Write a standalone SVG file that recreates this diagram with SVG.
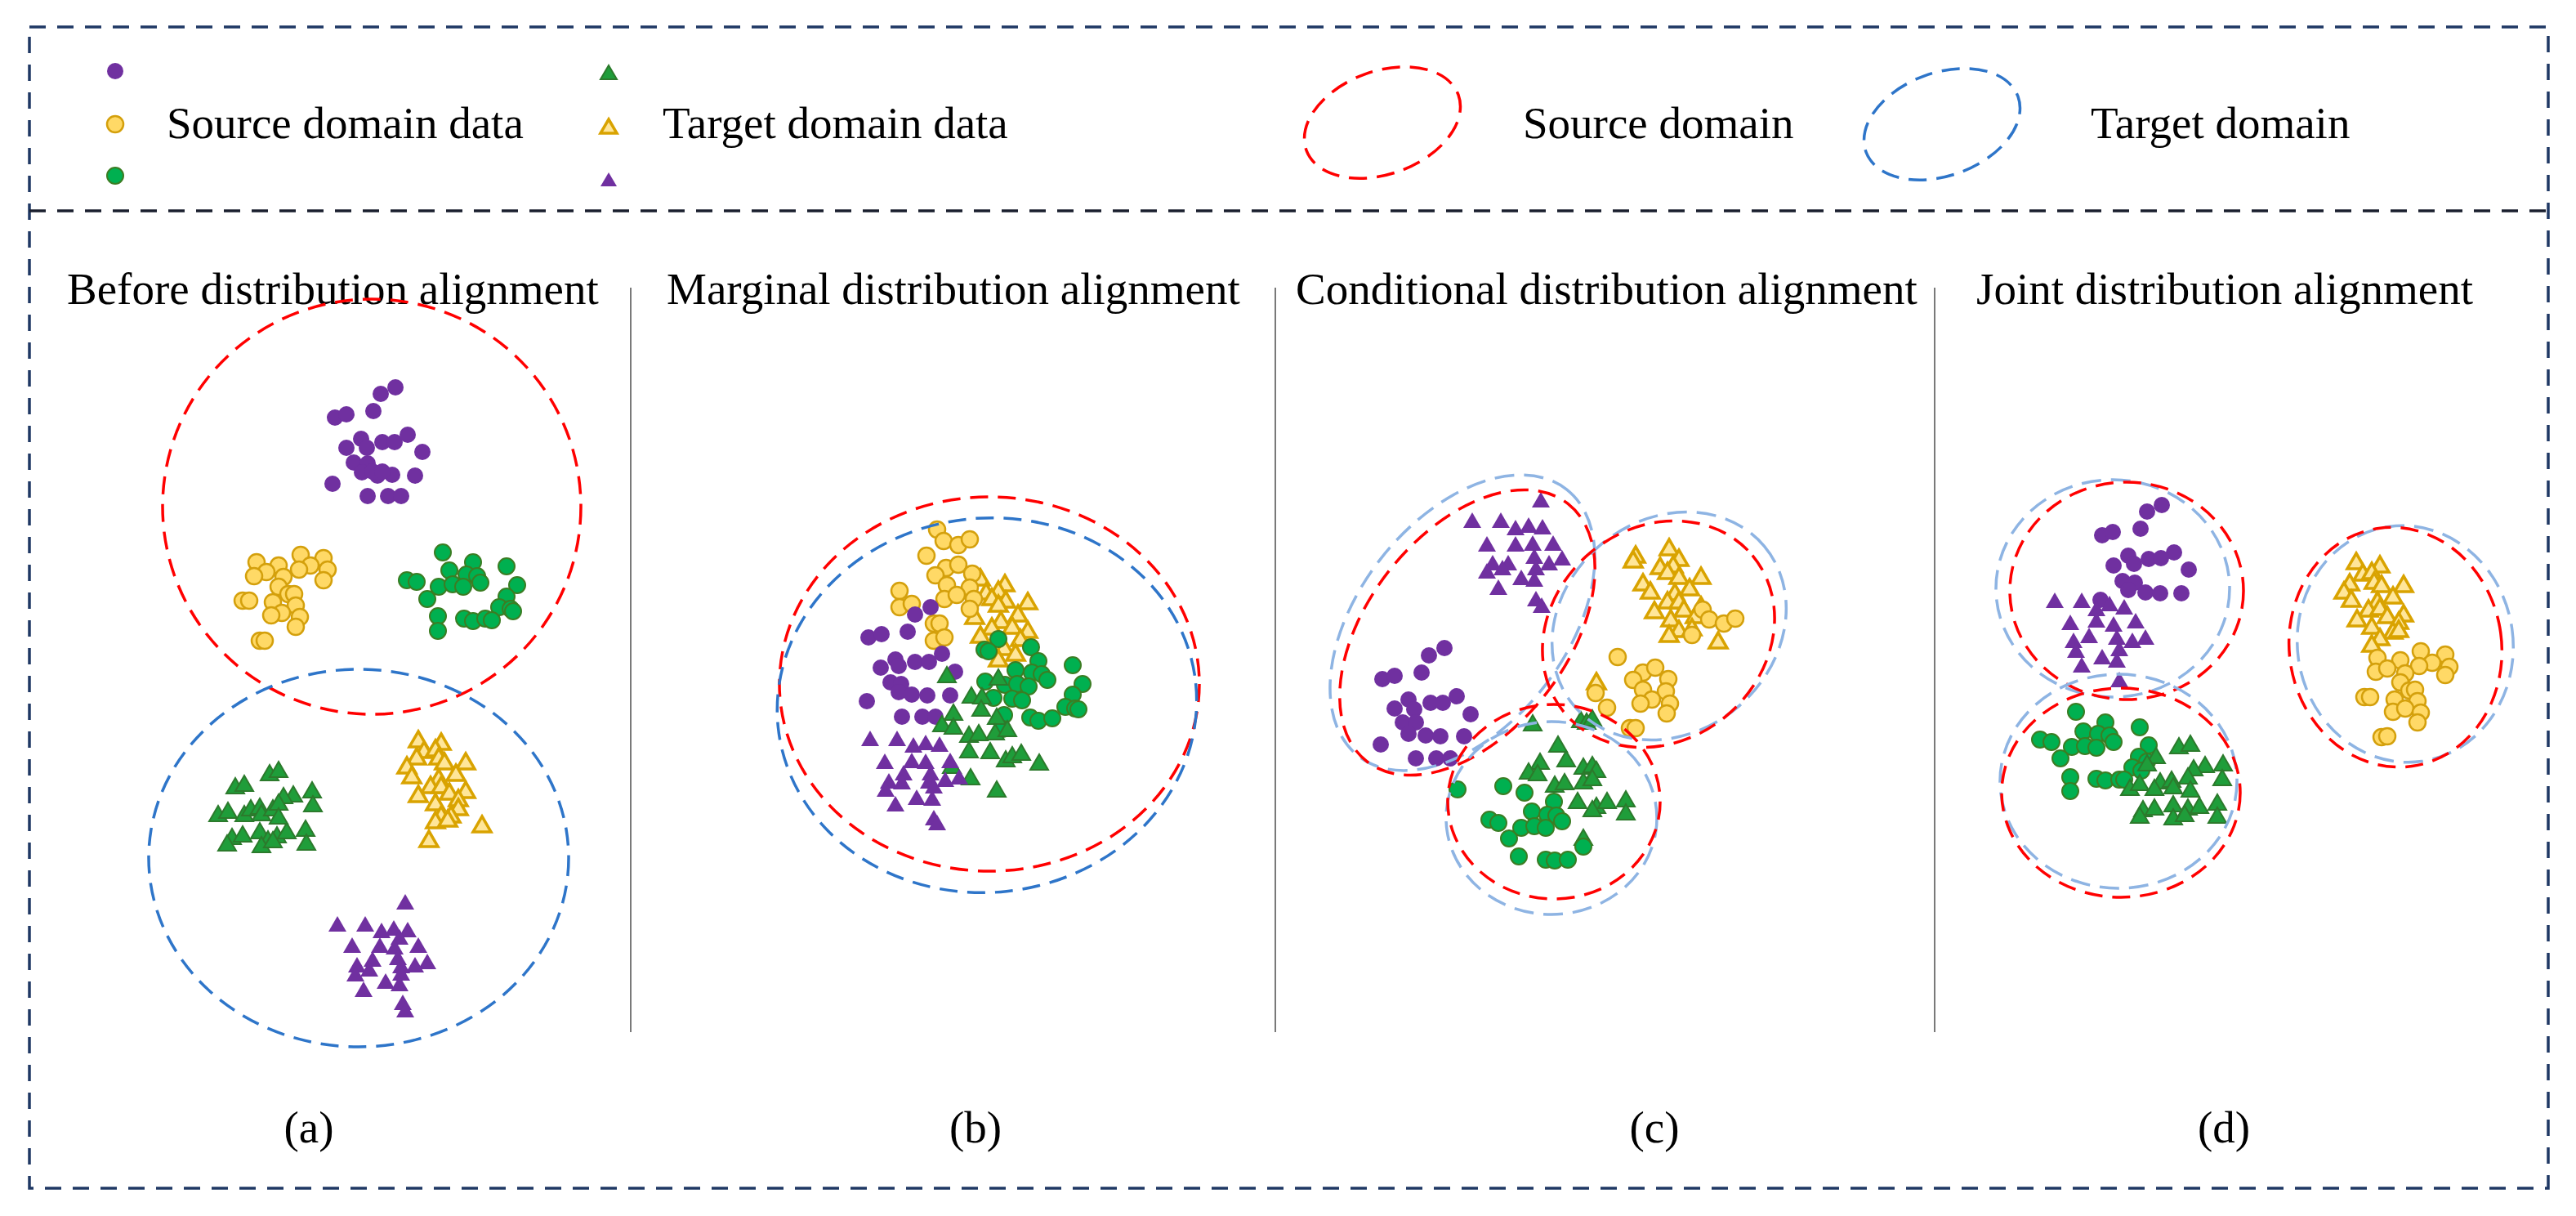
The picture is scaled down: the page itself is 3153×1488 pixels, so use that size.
<svg xmlns="http://www.w3.org/2000/svg" width="3153" height="1488" viewBox="0 0 3153 1488">
<style>
text{font-family:"Liberation Serif","Times New Roman",serif;font-size:55px;fill:#000}
.pc{fill:#7030a0}
.yc{fill:#ffd966;stroke:#d4a00c;stroke-width:2.5}
.gc{fill:#00b050;stroke:#3b7d23;stroke-width:2}
.pt{fill:#7030a0}
.yt{fill:#ffe699;stroke:#d9a300;stroke-width:3.5}
.gt{fill:#1f9d3a;stroke:#2c7a2c;stroke-width:2}
.er{fill:none;stroke:#ff0000;stroke-width:3.5;stroke-dasharray:22 12}
.eb{fill:none;stroke:#2e75c9;stroke-width:3.5;stroke-dasharray:22 12}
.el{fill:none;stroke:#8eb4e3;stroke-width:3.5;stroke-dasharray:24 12}
.frame{fill:none;stroke:#1f3864;stroke-width:3.5;stroke-dasharray:20 14}
.sep{stroke:#4d4d4d;stroke-width:1.5}
</style>
<defs>
<circle id="c" r="10"/>
<polygon id="t" points="0,-11 11,8 -11,8"/>
<circle id="lc" r="10"/>
<polygon id="lt" points="0,-9 10,8 -10,8"/>
</defs>
<rect width="3153" height="1488" fill="#fff"/>

<g id="frame">
<rect class="frame" x="36" y="33" width="3083" height="1421"/>
<line x1="36" y1="258" x2="3119" y2="258" stroke="#1a1f2e" stroke-width="3.5" stroke-dasharray="20 14"/>
</g>

<g id="legend">
<use href="#lc" class="pc" x="141" y="87"/>
<use href="#lc" class="yc" x="141" y="152"/>
<use href="#lc" class="gc" x="141" y="215"/>
<text x="204" y="169">Source domain data</text>
<use href="#lt" class="gt" x="745" y="89"/>
<use href="#lt" class="yt" x="745" y="155"/>
<use href="#lt" class="pt" x="745" y="220"/>
<text x="811" y="169">Target domain data</text>
<ellipse class="er" cx="1692" cy="150" rx="99" ry="63" transform="rotate(-20 1692 150)"/>
<text x="1864" y="169">Source domain</text>
<ellipse class="eb" cx="2377" cy="152" rx="99" ry="63" transform="rotate(-20 2377 152)"/>
<text x="2559" y="169">Target domain</text>
</g>

<g id="separators">
<line class="sep" x1="772" y1="352" x2="772" y2="1263"/>
<line class="sep" x1="1561" y1="352" x2="1561" y2="1263"/>
<line class="sep" x1="2368" y1="352" x2="2368" y2="1263"/>
</g>

<g id="titles">
<text x="82" y="372">Before distribution alignment</text>
<text x="816" y="372">Marginal distribution alignment</text>
<text x="1586" y="372">Conditional distribution alignment</text>
<text x="2419" y="372">Joint distribution alignment</text>
</g>

<g id="labels" text-anchor="middle">
<text x="378" y="1398">(a)</text>
<text x="1194" y="1398">(b)</text>
<text x="2025" y="1398">(c)</text>
<text x="2722" y="1398">(d)</text>
</g>

<g id="panel-a">
<g class="pc">
<use href="#c" x="484" y="474"/><use href="#c" x="466" y="482"/><use href="#c" x="457" y="503"/><use href="#c" x="410" y="511"/><use href="#c" x="424" y="507"/><use href="#c" x="442" y="537"/><use href="#c" x="468" y="541"/><use href="#c" x="483" y="541"/><use href="#c" x="499" y="532"/><use href="#c" x="424" y="548"/><use href="#c" x="449" y="548"/><use href="#c" x="517" y="553"/><use href="#c" x="433" y="566"/><use href="#c" x="450" y="567"/><use href="#c" x="443" y="578"/><use href="#c" x="462" y="582"/><use href="#c" x="480" y="581"/><use href="#c" x="508" y="582"/><use href="#c" x="407" y="592"/><use href="#c" x="450" y="607"/><use href="#c" x="475" y="607"/><use href="#c" x="491" y="607"/><use href="#c" x="456" y="577"/><use href="#c" x="468" y="577"/>
</g>
<g class="yc">
<use href="#c" x="314" y="688"/><use href="#c" x="341" y="692"/><use href="#c" x="326" y="700"/><use href="#c" x="311" y="705"/><use href="#c" x="347" y="706"/><use href="#c" x="368" y="679"/><use href="#c" x="396" y="683"/><use href="#c" x="380" y="692"/><use href="#c" x="366" y="697"/><use href="#c" x="401" y="697"/><use href="#c" x="396" y="710"/><use href="#c" x="341" y="718"/><use href="#c" x="353" y="727"/><use href="#c" x="360" y="727"/><use href="#c" x="334" y="737"/><use href="#c" x="362" y="741"/><use href="#c" x="297" y="735"/><use href="#c" x="305" y="735"/><use href="#c" x="345" y="750"/><use href="#c" x="332" y="753"/><use href="#c" x="367" y="755"/><use href="#c" x="362" y="767"/><use href="#c" x="318" y="784"/><use href="#c" x="324" y="784"/>
</g>
<g class="gc">
<use href="#c" x="542" y="676"/><use href="#c" x="579" y="688"/><use href="#c" x="620" y="693"/><use href="#c" x="498" y="710"/><use href="#c" x="510" y="712"/><use href="#c" x="550" y="698"/><use href="#c" x="571" y="703"/><use href="#c" x="584" y="705"/><use href="#c" x="588" y="713"/><use href="#c" x="537" y="718"/><use href="#c" x="554" y="715"/><use href="#c" x="567" y="718"/><use href="#c" x="523" y="733"/><use href="#c" x="633" y="716"/><use href="#c" x="620" y="730"/><use href="#c" x="611" y="743"/><use href="#c" x="625" y="745"/><use href="#c" x="628" y="748"/><use href="#c" x="536" y="754"/><use href="#c" x="536" y="772"/><use href="#c" x="568" y="757"/><use href="#c" x="579" y="760"/><use href="#c" x="594" y="757"/><use href="#c" x="602" y="759"/>
</g>
<g class="gt">
<use href="#t" x="330" y="947"/><use href="#t" x="341" y="943"/><use href="#t" x="288" y="963"/><use href="#t" x="299" y="960"/><use href="#t" x="359" y="973"/><use href="#t" x="347" y="975"/><use href="#t" x="382" y="968"/><use href="#t" x="383" y="985"/><use href="#t" x="267" y="997"/><use href="#t" x="279" y="993"/><use href="#t" x="299" y="997"/><use href="#t" x="307" y="990"/><use href="#t" x="318" y="988"/><use href="#t" x="320" y="996"/><use href="#t" x="334" y="990"/><use href="#t" x="341" y="983"/><use href="#t" x="341" y="1000"/><use href="#t" x="284" y="1025"/><use href="#t" x="297" y="1022"/><use href="#t" x="318" y="1018"/><use href="#t" x="328" y="1028"/><use href="#t" x="339" y="1023"/><use href="#t" x="351" y="1018"/><use href="#t" x="374" y="1015"/><use href="#t" x="278" y="1033"/><use href="#t" x="320" y="1035"/><use href="#t" x="334" y="1029"/><use href="#t" x="375" y="1032"/>
</g>
<g class="yt">
<use href="#t" x="512" y="906"/><use href="#t" x="540" y="909"/><use href="#t" x="519" y="919"/><use href="#t" x="533" y="917"/><use href="#t" x="510" y="927"/><use href="#t" x="537" y="927"/><use href="#t" x="544" y="933"/><use href="#t" x="498" y="938"/><use href="#t" x="570" y="933"/><use href="#t" x="504" y="950"/><use href="#t" x="558" y="947"/><use href="#t" x="537" y="953"/><use href="#t" x="527" y="962"/><use href="#t" x="540" y="962"/><use href="#t" x="550" y="970"/><use href="#t" x="512" y="973"/><use href="#t" x="570" y="968"/><use href="#t" x="561" y="978"/><use href="#t" x="533" y="983"/><use href="#t" x="561" y="989"/><use href="#t" x="552" y="998"/><use href="#t" x="540" y="998"/><use href="#t" x="533" y="1005"/><use href="#t" x="590" y="1010"/><use href="#t" x="525" y="1028"/><use href="#t" x="548" y="1003"/>
</g>
<g class="pt">
<use href="#t" x="496" y="1105"/><use href="#t" x="413" y="1132"/><use href="#t" x="447" y="1132"/><use href="#t" x="467" y="1140"/><use href="#t" x="482" y="1137"/><use href="#t" x="499" y="1139"/><use href="#t" x="489" y="1148"/><use href="#t" x="431" y="1158"/><use href="#t" x="465" y="1158"/><use href="#t" x="483" y="1160"/><use href="#t" x="512" y="1158"/><use href="#t" x="487" y="1173"/><use href="#t" x="456" y="1175"/><use href="#t" x="437" y="1182"/><use href="#t" x="523" y="1178"/><use href="#t" x="508" y="1182"/><use href="#t" x="491" y="1183"/><use href="#t" x="452" y="1187"/><use href="#t" x="435" y="1193"/><use href="#t" x="491" y="1192"/><use href="#t" x="472" y="1202"/><use href="#t" x="489" y="1205"/><use href="#t" x="445" y="1212"/><use href="#t" x="493" y="1228"/><use href="#t" x="496" y="1237"/>
</g>
<ellipse class="er" cx="455" cy="620" rx="256" ry="254"/>
<ellipse class="eb" cx="439" cy="1050" rx="257" ry="231"/>
</g>

<g id="panel-b">
<g class="yt">
<use href="#t" x="1200" y="708"/><use href="#t" x="1230" y="715"/><use href="#t" x="1207" y="725"/><use href="#t" x="1222" y="723"/><use href="#t" x="1214" y="732"/><use href="#t" x="1231" y="735"/><use href="#t" x="1258" y="737"/><use href="#t" x="1222" y="740"/><use href="#t" x="1246" y="752"/><use href="#t" x="1193" y="755"/><use href="#t" x="1225" y="760"/><use href="#t" x="1214" y="768"/><use href="#t" x="1239" y="767"/><use href="#t" x="1258" y="772"/><use href="#t" x="1200" y="778"/><use href="#t" x="1249" y="782"/><use href="#t" x="1229" y="793"/><use href="#t" x="1243" y="800"/><use href="#t" x="1222" y="807"/>
</g>
<g class="yc">
<use href="#c" x="1147" y="648"/><use href="#c" x="1155" y="662"/><use href="#c" x="1173" y="667"/><use href="#c" x="1187" y="660"/><use href="#c" x="1134" y="680"/><use href="#c" x="1158" y="695"/><use href="#c" x="1173" y="691"/><use href="#c" x="1145" y="704"/><use href="#c" x="1190" y="702"/><use href="#c" x="1159" y="716"/><use href="#c" x="1187" y="719"/><use href="#c" x="1101" y="723"/><use href="#c" x="1156" y="733"/><use href="#c" x="1171" y="728"/><use href="#c" x="1192" y="733"/><use href="#c" x="1187" y="745"/><use href="#c" x="1101" y="743"/><use href="#c" x="1116" y="739"/><use href="#c" x="1143" y="763"/><use href="#c" x="1150" y="763"/><use href="#c" x="1143" y="784"/><use href="#c" x="1156" y="780"/>
</g>
<g class="pc">
<use href="#c" x="1139" y="743"/><use href="#c" x="1120" y="752"/><use href="#c" x="1111" y="773"/><use href="#c" x="1063" y="780"/><use href="#c" x="1079" y="776"/><use href="#c" x="1153" y="800"/><use href="#c" x="1096" y="807"/><use href="#c" x="1120" y="810"/><use href="#c" x="1137" y="810"/><use href="#c" x="1078" y="817"/><use href="#c" x="1100" y="815"/><use href="#c" x="1169" y="822"/><use href="#c" x="1090" y="835"/><use href="#c" x="1103" y="837"/><use href="#c" x="1100" y="847"/><use href="#c" x="1116" y="850"/><use href="#c" x="1135" y="851"/><use href="#c" x="1163" y="851"/><use href="#c" x="1061" y="858"/><use href="#c" x="1104" y="877"/><use href="#c" x="1129" y="877"/><use href="#c" x="1145" y="877"/>
</g>
<g class="gc">
<use href="#c" x="1222" y="782"/><use href="#c" x="1205" y="795"/><use href="#c" x="1210" y="797"/><use href="#c" x="1262" y="792"/><use href="#c" x="1271" y="809"/><use href="#c" x="1313" y="814"/><use href="#c" x="1243" y="820"/><use href="#c" x="1263" y="823"/><use href="#c" x="1275" y="825"/><use href="#c" x="1282" y="832"/><use href="#c" x="1206" y="834"/><use href="#c" x="1230" y="838"/><use href="#c" x="1245" y="837"/><use href="#c" x="1259" y="840"/><use href="#c" x="1325" y="837"/><use href="#c" x="1216" y="854"/><use href="#c" x="1239" y="855"/><use href="#c" x="1251" y="857"/><use href="#c" x="1313" y="850"/><use href="#c" x="1304" y="865"/><use href="#c" x="1316" y="867"/><use href="#c" x="1320" y="868"/><use href="#c" x="1229" y="875"/><use href="#c" x="1261" y="878"/><use href="#c" x="1271" y="882"/><use href="#c" x="1288" y="879"/><use href="#c" x="1227" y="892"/>
</g>
<g class="gt">
<use href="#t" x="1159" y="827"/><use href="#t" x="1222" y="830"/><use href="#t" x="1189" y="852"/><use href="#t" x="1202" y="853"/><use href="#t" x="1167" y="873"/><use href="#t" x="1201" y="868"/><use href="#t" x="1153" y="887"/><use href="#t" x="1167" y="890"/><use href="#t" x="1220" y="878"/><use href="#t" x="1186" y="900"/><use href="#t" x="1198" y="898"/><use href="#t" x="1218" y="897"/><use href="#t" x="1233" y="893"/><use href="#t" x="1186" y="919"/><use href="#t" x="1212" y="920"/><use href="#t" x="1231" y="930"/><use href="#t" x="1239" y="925"/><use href="#t" x="1250" y="922"/><use href="#t" x="1272" y="934"/><use href="#t" x="1165" y="938"/><use href="#t" x="1188" y="952"/><use href="#t" x="1220" y="967"/>
</g>
<g class="pt">
<use href="#t" x="1065" y="905"/><use href="#t" x="1098" y="905"/><use href="#t" x="1118" y="913"/><use href="#t" x="1133" y="910"/><use href="#t" x="1150" y="912"/><use href="#t" x="1083" y="933"/><use href="#t" x="1116" y="932"/><use href="#t" x="1133" y="933"/><use href="#t" x="1163" y="932"/><use href="#t" x="1106" y="947"/><use href="#t" x="1139" y="947"/><use href="#t" x="1174" y="952"/><use href="#t" x="1088" y="957"/><use href="#t" x="1104" y="958"/><use href="#t" x="1137" y="957"/><use href="#t" x="1157" y="955"/><use href="#t" x="1084" y="967"/><use href="#t" x="1143" y="963"/><use href="#t" x="1122" y="977"/><use href="#t" x="1141" y="978"/><use href="#t" x="1096" y="985"/><use href="#t" x="1143" y="1002"/><use href="#t" x="1147" y="1008"/>
</g>
<ellipse class="er" cx="1211" cy="837" rx="257" ry="229"/>
<ellipse class="eb" cx="1208" cy="863" rx="257" ry="229" transform="rotate(-6 1208 863)"/>
</g>

<g id="panel-c">
<g class="pt">
<use href="#t" x="1886" y="613"/><use href="#t" x="1802" y="638"/><use href="#t" x="1837" y="638"/><use href="#t" x="1855" y="647"/><use href="#t" x="1871" y="644"/><use href="#t" x="1888" y="646"/><use href="#t" x="1820" y="667"/><use href="#t" x="1855" y="667"/><use href="#t" x="1876" y="666"/><use href="#t" x="1901" y="666"/><use href="#t" x="1878" y="682"/><use href="#t" x="1912" y="684"/><use href="#t" x="1896" y="690"/><use href="#t" x="1827" y="690"/><use href="#t" x="1846" y="690"/><use href="#t" x="1880" y="696"/><use href="#t" x="1820" y="700"/><use href="#t" x="1839" y="696"/><use href="#t" x="1862" y="708"/><use href="#t" x="1878" y="710"/><use href="#t" x="1834" y="720"/><use href="#t" x="1880" y="734"/><use href="#t" x="1887" y="742"/>
</g>
<g class="pc">
<use href="#c" x="1768" y="793"/><use href="#c" x="1749" y="802"/><use href="#c" x="1740" y="823"/><use href="#c" x="1692" y="831"/><use href="#c" x="1707" y="827"/><use href="#c" x="1783" y="852"/><use href="#c" x="1724" y="856"/><use href="#c" x="1751" y="860"/><use href="#c" x="1766" y="860"/><use href="#c" x="1707" y="867"/><use href="#c" x="1731" y="868"/><use href="#c" x="1800" y="874"/><use href="#c" x="1717" y="884"/><use href="#c" x="1733" y="884"/><use href="#c" x="1724" y="898"/><use href="#c" x="1745" y="900"/><use href="#c" x="1763" y="901"/><use href="#c" x="1792" y="901"/><use href="#c" x="1690" y="911"/><use href="#c" x="1733" y="928"/><use href="#c" x="1758" y="928"/><use href="#c" x="1775" y="928"/>
</g>
<g class="yt">
<use href="#t" x="2043" y="671"/><use href="#t" x="2002" y="680"/><use href="#t" x="1999" y="686"/><use href="#t" x="2055" y="684"/><use href="#t" x="2032" y="694"/><use href="#t" x="2048" y="692"/><use href="#t" x="2041" y="700"/><use href="#t" x="2055" y="706"/><use href="#t" x="2082" y="706"/><use href="#t" x="2011" y="714"/><use href="#t" x="2020" y="724"/><use href="#t" x="2068" y="720"/><use href="#t" x="2050" y="726"/><use href="#t" x="2041" y="736"/><use href="#t" x="2055" y="736"/><use href="#t" x="2082" y="742"/><use href="#t" x="2025" y="748"/><use href="#t" x="2061" y="746"/><use href="#t" x="2045" y="758"/><use href="#t" x="2075" y="754"/><use href="#t" x="2055" y="771"/><use href="#t" x="2071" y="769"/><use href="#t" x="2043" y="777"/><use href="#t" x="2103" y="785"/><use href="#t" x="1954" y="835"/>
</g>
<g class="yc">
<use href="#c" x="2084" y="746"/><use href="#c" x="2092" y="758"/><use href="#c" x="2110" y="763"/><use href="#c" x="2124" y="757"/><use href="#c" x="2071" y="777"/><use href="#c" x="1980" y="804"/><use href="#c" x="2011" y="823"/><use href="#c" x="2026" y="817"/><use href="#c" x="1999" y="832"/><use href="#c" x="2042" y="831"/><use href="#c" x="2011" y="844"/><use href="#c" x="2039" y="846"/><use href="#c" x="2022" y="856"/><use href="#c" x="2008" y="861"/><use href="#c" x="2044" y="861"/><use href="#c" x="2040" y="873"/><use href="#c" x="1953" y="848"/><use href="#c" x="1967" y="866"/><use href="#c" x="1995" y="891"/><use href="#c" x="2002" y="891"/>
</g>
<g class="gt">
<use href="#t" x="1876" y="886"/><use href="#t" x="1935" y="882"/><use href="#t" x="1942" y="884"/><use href="#t" x="1949" y="880"/><use href="#t" x="1907" y="912"/><use href="#t" x="1885" y="933"/><use href="#t" x="1917" y="930"/><use href="#t" x="1871" y="945"/><use href="#t" x="1882" y="947"/><use href="#t" x="1938" y="939"/><use href="#t" x="1949" y="937"/><use href="#t" x="1954" y="943"/><use href="#t" x="1903" y="961"/><use href="#t" x="1915" y="958"/><use href="#t" x="1938" y="957"/><use href="#t" x="1949" y="953"/><use href="#t" x="1931" y="981"/><use href="#t" x="1954" y="987"/><use href="#t" x="1967" y="981"/><use href="#t" x="1949" y="991"/><use href="#t" x="1990" y="979"/><use href="#t" x="1990" y="995"/><use href="#t" x="1938" y="1026"/>
</g>
<g class="gc">
<use href="#c" x="1784" y="966"/><use href="#c" x="1840" y="962"/><use href="#c" x="1866" y="970"/><use href="#c" x="1902" y="981"/><use href="#c" x="1875" y="993"/><use href="#c" x="1894" y="997"/><use href="#c" x="1905" y="998"/><use href="#c" x="1912" y="1005"/><use href="#c" x="1823" y="1003"/><use href="#c" x="1834" y="1007"/><use href="#c" x="1862" y="1013"/><use href="#c" x="1878" y="1011"/><use href="#c" x="1892" y="1013"/><use href="#c" x="1847" y="1026"/><use href="#c" x="1938" y="1036"/><use href="#c" x="1859" y="1048"/><use href="#c" x="1892" y="1052"/><use href="#c" x="1903" y="1053"/><use href="#c" x="1919" y="1052"/>
</g>
<ellipse class="el" cx="1790" cy="762" rx="207" ry="127" transform="rotate(-52 1790 762)"/>
<ellipse class="er" cx="1796" cy="774" rx="200" ry="122" transform="rotate(-52 1796 774)"/>
<ellipse class="el" cx="2043" cy="766" rx="152" ry="130" transform="rotate(-40 2043 766)"/>
<ellipse class="er" cx="2030" cy="776" rx="150" ry="130" transform="rotate(-40 2030 776)"/>
<ellipse class="el" cx="1899" cy="1001" rx="129" ry="118"/>
<ellipse class="er" cx="1902" cy="981" rx="130" ry="119"/>
</g>

<g id="panel-d">
<g class="pc">
<use href="#c" x="2646" y="618"/><use href="#c" x="2628" y="626"/><use href="#c" x="2620" y="647"/><use href="#c" x="2573" y="655"/><use href="#c" x="2586" y="651"/><use href="#c" x="2661" y="676"/><use href="#c" x="2605" y="680"/><use href="#c" x="2630" y="684"/><use href="#c" x="2645" y="683"/><use href="#c" x="2587" y="692"/><use href="#c" x="2612" y="690"/><use href="#c" x="2679" y="697"/><use href="#c" x="2598" y="711"/><use href="#c" x="2613" y="713"/><use href="#c" x="2605" y="722"/><use href="#c" x="2626" y="725"/><use href="#c" x="2644" y="726"/><use href="#c" x="2670" y="726"/><use href="#c" x="2571" y="734"/>
</g>
<g class="pt">
<use href="#t" x="2515" y="736"/><use href="#t" x="2548" y="736"/><use href="#t" x="2582" y="740"/><use href="#t" x="2600" y="744"/><use href="#t" x="2566" y="746"/><use href="#t" x="2534" y="763"/><use href="#t" x="2566" y="760"/><use href="#t" x="2614" y="761"/><use href="#t" x="2587" y="765"/><use href="#t" x="2557" y="779"/><use href="#t" x="2538" y="785"/><use href="#t" x="2591" y="781"/><use href="#t" x="2610" y="785"/><use href="#t" x="2626" y="781"/><use href="#t" x="2541" y="797"/><use href="#t" x="2594" y="795"/><use href="#t" x="2573" y="805"/><use href="#t" x="2591" y="809"/><use href="#t" x="2548" y="815"/><use href="#t" x="2594" y="833"/>
</g>
<g class="gc">
<use href="#c" x="2541" y="871"/><use href="#c" x="2497" y="905"/><use href="#c" x="2511" y="908"/><use href="#c" x="2550" y="895"/><use href="#c" x="2577" y="884"/><use href="#c" x="2568" y="898"/><use href="#c" x="2582" y="900"/><use href="#c" x="2587" y="908"/><use href="#c" x="2536" y="914"/><use href="#c" x="2552" y="913"/><use href="#c" x="2566" y="915"/><use href="#c" x="2522" y="928"/><use href="#c" x="2619" y="890"/><use href="#c" x="2630" y="912"/><use href="#c" x="2618" y="926"/><use href="#c" x="2628" y="932"/><use href="#c" x="2610" y="939"/><use href="#c" x="2621" y="943"/><use href="#c" x="2534" y="951"/><use href="#c" x="2534" y="968"/><use href="#c" x="2566" y="953"/><use href="#c" x="2577" y="955"/><use href="#c" x="2594" y="954"/><use href="#c" x="2600" y="954"/>
</g>
<g class="gt">
<use href="#t" x="2667" y="914"/><use href="#t" x="2681" y="911"/><use href="#t" x="2639" y="926"/><use href="#t" x="2628" y="935"/><use href="#t" x="2699" y="937"/><use href="#t" x="2721" y="935"/><use href="#t" x="2685" y="941"/><use href="#t" x="2720" y="953"/><use href="#t" x="2607" y="965"/><use href="#t" x="2619" y="959"/><use href="#t" x="2644" y="957"/><use href="#t" x="2658" y="955"/><use href="#t" x="2637" y="965"/><use href="#t" x="2660" y="963"/><use href="#t" x="2678" y="951"/><use href="#t" x="2681" y="967"/><use href="#t" x="2623" y="991"/><use href="#t" x="2637" y="989"/><use href="#t" x="2660" y="985"/><use href="#t" x="2678" y="989"/><use href="#t" x="2692" y="987"/><use href="#t" x="2714" y="983"/><use href="#t" x="2619" y="999"/><use href="#t" x="2660" y="1001"/><use href="#t" x="2674" y="997"/><use href="#t" x="2714" y="999"/>
</g>
<g class="yt">
<use href="#t" x="2884" y="688"/><use href="#t" x="2913" y="692"/><use href="#t" x="2892" y="702"/><use href="#t" x="2903" y="700"/><use href="#t" x="2876" y="714"/><use href="#t" x="2906" y="712"/><use href="#t" x="2915" y="716"/><use href="#t" x="2942" y="716"/><use href="#t" x="2869" y="724"/><use href="#t" x="2878" y="734"/><use href="#t" x="2929" y="730"/><use href="#t" x="2910" y="736"/><use href="#t" x="2899" y="746"/><use href="#t" x="2913" y="744"/><use href="#t" x="2922" y="754"/><use href="#t" x="2942" y="752"/><use href="#t" x="2885" y="758"/><use href="#t" x="2936" y="761"/><use href="#t" x="2903" y="767"/><use href="#t" x="2929" y="773"/><use href="#t" x="2936" y="771"/><use href="#t" x="2913" y="781"/><use href="#t" x="2903" y="789"/>
</g>
<g class="yc">
<use href="#c" x="2910" y="805"/><use href="#c" x="2963" y="797"/><use href="#c" x="2993" y="801"/><use href="#c" x="2938" y="808"/><use href="#c" x="2977" y="811"/><use href="#c" x="2998" y="816"/><use href="#c" x="2961" y="815"/><use href="#c" x="2908" y="822"/><use href="#c" x="2922" y="818"/><use href="#c" x="2944" y="824"/><use href="#c" x="2993" y="826"/><use href="#c" x="2938" y="835"/><use href="#c" x="2949" y="845"/><use href="#c" x="2956" y="844"/><use href="#c" x="2894" y="853"/><use href="#c" x="2901" y="853"/><use href="#c" x="2931" y="856"/><use href="#c" x="2959" y="858"/><use href="#c" x="2929" y="871"/><use href="#c" x="2944" y="867"/><use href="#c" x="2963" y="872"/><use href="#c" x="2959" y="884"/><use href="#c" x="2915" y="902"/><use href="#c" x="2922" y="901"/>
</g>
<ellipse class="el" cx="2586" cy="720" rx="143" ry="133"/>
<ellipse class="er" cx="2603" cy="723" rx="143" ry="133"/>
<ellipse class="el" cx="2593" cy="956" rx="145" ry="131"/>
<ellipse class="er" cx="2596" cy="970" rx="146" ry="128"/>
<ellipse class="el" cx="2944" cy="788" rx="132" ry="145" transform="rotate(-8 2944 788)"/>
<ellipse class="er" cx="2932" cy="792" rx="130" ry="147" transform="rotate(-8 2932 792)"/>
</g>
</svg>
